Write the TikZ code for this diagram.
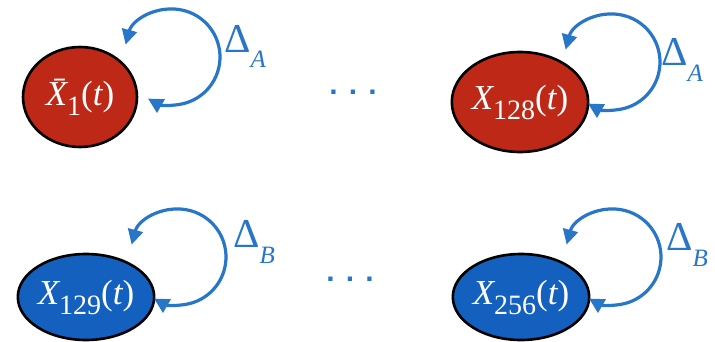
\documentclass[tikz,border=0pt]{standalone}
\usepackage{fontspec}
\setmainfont{Liberation Serif}
\newfontfamily\dotsfont{Liberation Sans}
\usetikzlibrary{arrows.meta,shapes.geometric}
\definecolor{nodered}{RGB}{190,40,22}
\definecolor{nodeblue}{RGB}{20,96,190}
\definecolor{loopblue}{RGB}{40,118,200}
\newcommand\lowsub[1]{\raisebox{-10pt}{\fontsize{28}{28}\selectfont #1}}
\newcommand\deltasub[1]{\raisebox{-16pt}{\fontsize{25}{25}\selectfont\itshape #1}}
\tikzset{
  state/.style={draw=black, line width=2.6pt, ellipse, inner sep=0pt,
    minimum width=114pt, minimum height=100pt, text=white,
    font=\fontsize{35}{35}\selectfont},
  selfloop/.style={draw=loopblue, line width=3.2pt,
    {Triangle[length=15pt,width=15pt]}-{Triangle[length=15pt,width=15pt]}},
  deltalabel/.style={anchor=base west, inner sep=0pt, text=loopblue,
    font=\fontsize{41}{41}\selectfont},
  dots/.style={anchor=base, inner sep=0pt, text=loopblue,
    font=\dotsfont\bfseries\fontsize{30}{30}\selectfont}
}
\begin{document}
\begin{tikzpicture}[x=1pt,y=1pt]
\useasboundingbox (0,0) rectangle (715,341);
% group A
\node[state, fill=nodered] (xa1) at (80,244) {{\itshape\=X}\lowsub{1}({\itshape t})};
\node[state, fill=nodered] (xa128) at (520,239) {{\itshape X}\lowsub{128}({\itshape t})};
% group B
\node[state, fill=nodeblue, minimum height=86pt] (xb129) at (86,44) {{\itshape X}\lowsub{129}({\itshape t})};
\node[state, fill=nodeblue, minimum height=86pt] (xb256) at (521,44) {{\itshape X}\lowsub{256}({\itshape t})};
\node[dots] (da) at (353,247) {. . .};
\node[dots] (db) at (350,60) {. . .};
% self loops
\foreach \n in {xa1,xa128,xb129,xb256}{
  \path (\n.center) ++(92pt,40pt) ++(165:48pt) coordinate (\n-s);
  \draw[selfloop] (\n-s) arc[start angle=165, end angle=-120, radius=48pt];
}
\node[deltalabel] (la1) at ([shift={(144pt,45pt)}]xa1.center) {Δ\deltasub{A}};
\node[deltalabel] (la2) at ([shift={(141pt,37pt)}]xa128.center) {Δ\deltasub{A}};
\node[deltalabel] (lb1) at ([shift={(147pt,50pt)}]xb129.center) {Δ\deltasub{B}};
\node[deltalabel] (lb2) at ([shift={(145pt,47pt)}]xb256.center) {Δ\deltasub{B}};
\end{tikzpicture}
\end{document}
